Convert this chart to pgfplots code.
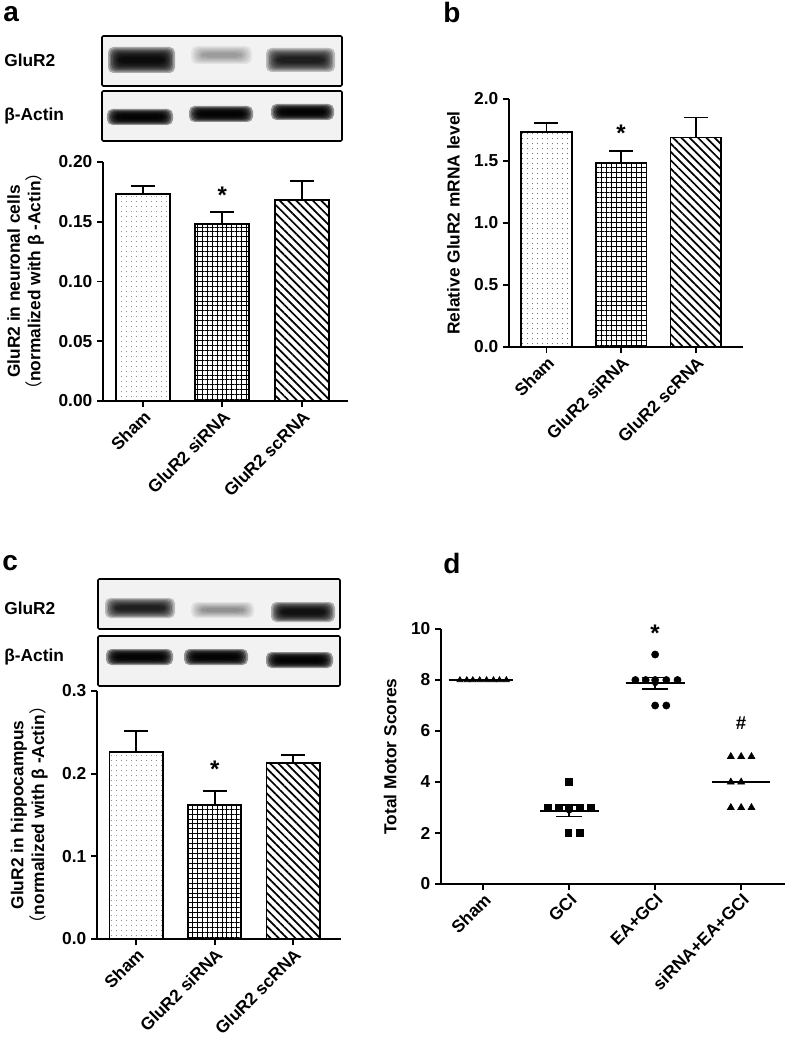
\documentclass[border=0pt]{standalone}
\usepackage{fontspec}
\setmainfont{Liberation Sans}
\newfontfamily\cjk{Noto Sans CJK SC}
\usepackage{pgfplots}
\pgfplotsset{compat=1.18}
\usetikzlibrary{patterns.meta}

\newcommand{\lbl}{\bfseries\fontsize{13}{15.5}\selectfont}
% blurred blot band: x1, x2, centre y, half height, opacity per layer
\newcommand{\band}[5]{%
  \foreach \k in {0,...,7}{%
    \fill[black,opacity=#5,rounded corners=4pt] ({#1+1.6*\k},{#3-#4+0.11*#4*\k}) rectangle ({#2-1.6*\k},{#3+#4-0.11*#4*\k});
  }}

\tikzset{sigstar/.style={font=\bfseries\fontsize{18}{18}\selectfont}}

\pgfplotsset{
  gp/.style={
    scale only axis, clip=false,
    axis x line=bottom, axis y line=left,
    axis line style={line width=1.3pt, -},
    tick align=outside, major tick length=4.5pt,
    tick style={line width=1.3pt, black},
    ymin=0,
    x tick label style={rotate=45, anchor=north east, font=\lbl, inner sep=1pt},
    y tick label style={font=\lbl},
    ylabel style={font=\lbl, align=center},
    ylabel shift=4pt,
    /pgf/number format/assume math mode=true,
  },
  bars/.style={gp, xtick={0,1,2}, xmin=-0.5,
    xticklabels={Sham, GluR2 siRNA, GluR2 scRNA},
    ybar, bar width=0.68},
  bar/.style={draw=black, line width=1.3pt, bar shift=0pt,
    error bars/y dir=plus, error bars/y explicit,
    error bars/error bar style={line width=1.3pt, black, solid},
    error bars/error mark options={rotate=90, mark size=9pt, line width=1.3pt}},
  sham/.style={bar, pattern={Dots[radius=0.4pt, distance=4pt]}, pattern color=black!75},
  sirna/.style={bar, pattern={Hatch[angle=0, distance=3.7pt, line width=0.7pt]}},
  scrna/.style={bar, pattern={Lines[angle=-45, distance=4.4pt, line width=1.3pt]}},
}

\begin{document}
\begin{tikzpicture}
\begin{scope}[x=0.75pt, y=-0.75pt]
  \path[use as bounding box] (0,0) rectangle (789,1041);
  \coordinate (Oa) at (103,401);
  \coordinate (Ob) at (509,347);
  \coordinate (Oc) at (97,939);
  \coordinate (Od) at (441,884);
  \node[anchor=base west, inner sep=0pt, font=\bfseries\fontsize{21}{21}\selectfont] at (3,22) {a};
  \node[anchor=base west, inner sep=0pt, font=\bfseries\fontsize{21}{21}\selectfont] at (443,23) {b};
  \node[anchor=base west, inner sep=0pt, font=\bfseries\fontsize{21}{21}\selectfont] at (2,570) {c};
  \node[anchor=base west, inner sep=0pt, font=\bfseries\fontsize{21}{21}\selectfont] at (443,573) {d};
  % blot a
  \filldraw[fill=black!5, draw=black, line width=1.2pt, rounded corners=1pt] (102,36) rectangle (342,86);
  \filldraw[fill=black!5, draw=black, line width=1.2pt, rounded corners=1pt] (102,91) rectangle (342,141);
  \band{108}{175}{60}{13}{0.3}
  \band{191}{252}{55}{9}{0.05}
  \band{266}{335}{60}{12}{0.22}
  \band{107}{173}{117}{8}{0.38}
  \band{189}{253}{114}{8}{0.38}
  \band{271}{334}{112}{8}{0.38}
  \node[anchor=west, font=\lbl, inner sep=0pt] at (4,60) {GluR2};
  \node[anchor=west, font=\lbl, inner sep=0pt] at (4,116) {β-Actin};
  % blot c
  \filldraw[fill=black!5, draw=black, line width=1.2pt, rounded corners=1pt] (98,579) rectangle (340,629);
  \filldraw[fill=black!5, draw=black, line width=1.2pt, rounded corners=1pt] (98,636) rectangle (340,686);
  \band{105}{175}{608}{10}{0.22}
  \band{191}{254}{610}{8}{0.06}
  \band{271}{335}{612}{10}{0.28}
  \band{106}{173}{657}{8}{0.38}
  \band{184}{248}{657}{8}{0.38}
  \band{266}{333}{660}{8}{0.38}
  \node[anchor=west, font=\lbl, inner sep=0pt] at (4,608) {GluR2};
  \node[anchor=west, font=\lbl, inner sep=0pt] at (4,657) {β-Actin};
\end{scope}

% panel a
\begin{axis}[bars, at={(Oa)}, anchor=south west,
  width=183.75pt, height=179.25pt, xmax=2.58, ymax=0.2,
  ytick={0,0.05,0.1,0.15,0.2},
  yticklabel style={/pgf/number format/.cd, fixed, fixed zerofill, precision=2},
  ylabel={GluR2 in neuronal cells\\{\cjk\mdseries （}normalized with β -Actin{\cjk\mdseries ）}}]
  \addplot[sham]  coordinates {(0,0.173) +- (0,0.007)};
  \addplot[sirna] coordinates {(1,0.148) +- (0,0.010)};
  \addplot[scrna] coordinates {(2,0.168) +- (0,0.016)};
  \node[sigstar] at (axis cs:1,0.172) {*};
\end{axis}

% panel b
\begin{axis}[bars, at={(Ob)}, anchor=south west,
  width=175.5pt, height=186pt, xmax=2.63, ymax=2,
  ytick={0,0.5,1,1.5,2},
  yticklabel style={/pgf/number format/.cd, fixed, fixed zerofill, precision=1},
  ylabel={Relative GluR2 mRNA level}]
  \addplot[sham]  coordinates {(0,1.734) +- (0,0.072)};
  \addplot[sirna] coordinates {(1,1.484) +- (0,0.096)};
  \addplot[scrna] coordinates {(2,1.690) +- (0,0.160)};
  \node[sigstar] at (axis cs:1,1.72) {*};
\end{axis}

% panel c
\begin{axis}[bars, at={(Oc)}, anchor=south west,
  width=183pt, height=186pt, xmax=2.61, ymax=0.3,
  ytick={0,0.1,0.2,0.3},
  yticklabel style={/pgf/number format/.cd, fixed, fixed zerofill, precision=1},
  ylabel={GluR2 in hippocampus\\{\cjk\mdseries （}normalized with β -Actin{\cjk\mdseries ）}}]
  \addplot[sham]  coordinates {(0,0.226) +- (0,0.026)};
  \addplot[sirna] coordinates {(1,0.162) +- (0,0.017)};
  \addplot[scrna] coordinates {(2,0.213) +- (0,0.010)};
  \node[sigstar] at (axis cs:1,0.205) {*};
\end{axis}

% panel d
\begin{axis}[gp, at={(Od)}, anchor=south west,
  width=258pt, height=191.25pt, xmin=-0.49, xmax=3.51, ymax=10,
  xtick={0,1,2,3}, xticklabels={Sham, GCI, EA+GCI, siRNA+EA+GCI},
  ytick={0,2,4,6,8,10},
  ylabel={Total Motor Scores}]
  % group means
  \addplot[black, line width=1.6pt, no marks] coordinates {(-0.4,8) (0.35,8)};
  \addplot[black, line width=1.6pt, no marks] coordinates {(0.66,2.875) (1.35,2.875)};
  \addplot[black, line width=1.6pt, no marks] coordinates {(1.66,7.875) (2.35,7.875)};
  \addplot[black, line width=1.6pt, no marks] coordinates {(2.66,4) (3.34,4)};
  % SEM
  \addplot[only marks, mark=none, error bars/.cd, y dir=both, y explicit,
    error bar style={draw=black, line width=1.3pt},
    error mark options={draw=black, rotate=90, mark size=10pt, line width=1.3pt}]
    coordinates {(1,2.875) +- (0,0.227) (2,7.875) +- (0,0.227)};
  % individual animals
  \addplot[only marks, mark=triangle*, mark size=2.6pt, black] coordinates {
    (-0.27,8) (-0.19,8) (-0.12,8) (-0.04,8) (0.04,8) (0.12,8) (0.19,8) (0.27,8)};
  \addplot[only marks, mark=square*, mark size=2.6pt, black] coordinates {
    (1,4) (0.75,3) (0.875,3) (1,3) (1.125,3) (1.25,3) (0.99,2) (1.12,2)};
  \addplot[only marks, mark=*, mark size=2.7pt, black] coordinates {
    (2,9) (1.77,8) (1.89,8) (2,8) (2.13,8) (2.26,8) (2,7) (2.13,7)};
  \addplot[only marks, mark=triangle*, mark size=3pt, black] coordinates {
    (2.88,5) (3,5) (3.12,5) (2.88,4) (3,4) (2.88,3) (3,3) (3.12,3)};
  \node[sigstar] at (axis cs:2,9.85) {*};
  \node[font=\bfseries\fontsize{14}{14}\selectfont] at (axis cs:3,6.3) {\#};
\end{axis}
\end{tikzpicture}
\end{document}
